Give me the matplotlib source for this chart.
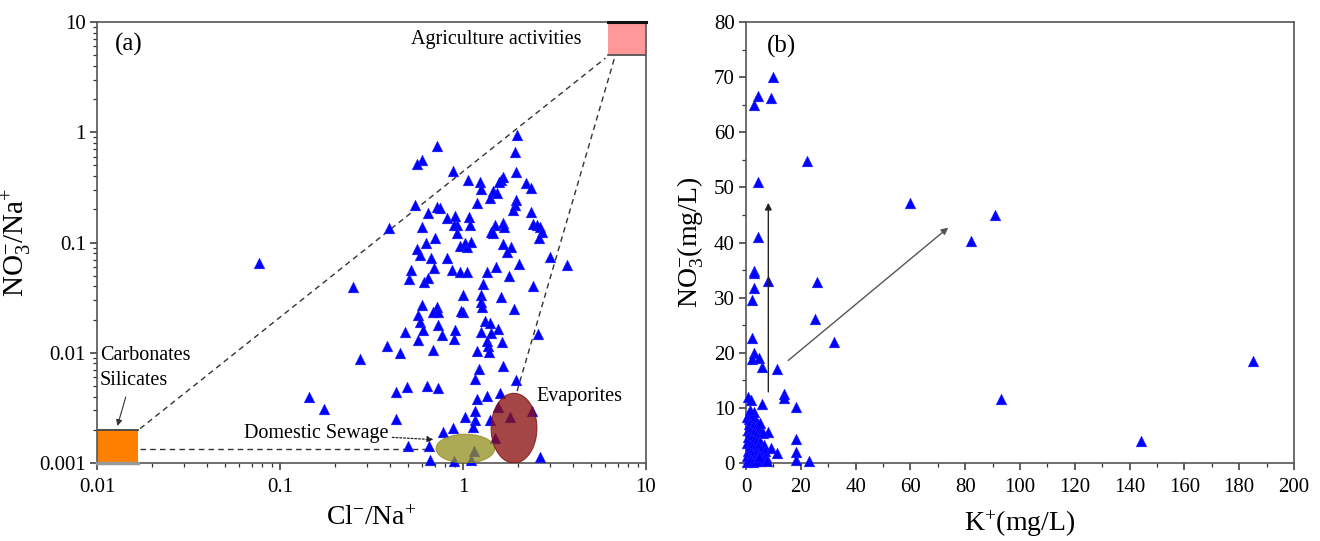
import matplotlib
matplotlib.use('Agg')
import matplotlib.pyplot as plt
import numpy as np
from matplotlib.patches import Rectangle
from matplotlib.ticker import FixedLocator, FixedFormatter, LogLocator, MultipleLocator, NullFormatter

plt.rcParams['font.family'] = ['Liberation Serif', 'DejaVu Serif']
plt.rcParams['mathtext.fontset'] = 'custom'
plt.rcParams['mathtext.rm'] = 'Liberation Serif'
plt.rcParams['mathtext.it'] = 'Liberation Serif:italic'
plt.rcParams['mathtext.bf'] = 'Liberation Serif:bold'

# ---------------- Panel (a) data: Cl-/Na+ vs NO3-/Na+ ----------------
cl_na = [1.98, 0.718, 1.92, 0.594, 0.558, 0.885, 1.95, 1.06, 1.24, 1.26, 1.66, 1.61, 1.57,
         1.46, 1.40, 1.53, 2.20, 2.34, 0.547, 1.96, 1.92, 1.88, 1.20, 0.724, 0.748, 0.646,
         0.814, 0.904, 0.923, 1.08, 1.09, 0.897, 0.923, 0.600, 1.50, 1.66, 1.68, 1.43, 1.46,
         2.35, 2.40, 2.53, 2.63, 2.69, 2.60, 0.703, 0.628, 0.563, 0.582, 0.963, 1.03, 1.05,
         1.11, 1.66, 1.83, 1.73, 2.99, 3.68, 0.668, 0.821, 0.518, 0.697, 0.507, 0.615, 0.646,
         0.874, 0.963, 1.05, 1.36, 1.51, 1.78, 2.02, 2.40, 1.28, 0.252, 0.396, 1.00, 1.26,
         1.61,
         0.594, 0.718, 0.688, 0.733, 1.26, 1.27, 1.90, 0.996, 0.565, 0.582, 0.733, 0.607,
         0.904, 0.482, 0.764, 1.32, 1.40, 1.56, 1.43, 1.35, 1.63, 0.570, 0.893, 0.386, 0.452,
         0.688, 1.19, 1.37, 1.38, 0.274, 1.23, 1.66, 1.16, 1.95, 2.56, 0.430, 0.492, 0.633,
         0.727, 1.20, 1.36, 1.59, 1.02, 1.17, 1.16, 0.430, 1.40, 1.56, 1.81, 2.37, 0.885,
         0.774, 1.13, 1.50, 0.498, 0.655, 0.660, 0.893, 1.11, 1.15, 2.63,
         0.077, 0.144, 0.175, 1.25, 0.98]
no3_na = [0.944, 0.755, 0.667, 0.560, 0.512, 0.445, 0.439, 0.369, 0.356, 0.303, 0.390, 0.369,
          0.356, 0.295, 0.251, 0.279, 0.344, 0.310, 0.219, 0.243, 0.219, 0.197, 0.227, 0.211,
          0.204, 0.184, 0.166, 0.174, 0.144, 0.171, 0.144, 0.144, 0.123, 0.139, 0.144, 0.151,
          0.139, 0.125, 0.121, 0.190, 0.147, 0.144, 0.139, 0.125, 0.111, 0.111, 0.0996, 0.0867,
          0.077, 0.0929, 0.0996, 0.0917, 0.102, 0.0969, 0.0917, 0.0826, 0.0744, 0.0625, 0.0718,
          0.0718, 0.0563, 0.0583, 0.0467, 0.0441, 0.0473, 0.0563, 0.0544, 0.0544, 0.0536,
          0.0604, 0.0497, 0.0638, 0.0406, 0.0417, 0.0398, 0.136, 0.0334, 0.0334, 0.0323,
          0.0271, 0.0258, 0.0236, 0.0233, 0.0291, 0.0258, 0.0248, 0.0233, 0.0220, 0.0191,
          0.0179, 0.0161, 0.0161, 0.0155, 0.0145, 0.0194, 0.0185, 0.0163, 0.0150, 0.0128,
          0.0124, 0.0130, 0.0132, 0.0116, 0.00988, 0.0106, 0.0104, 0.0114, 0.0102, 0.00871,
          0.00707, 0.00758, 0.00574, 0.00566, 0.0147, 0.00444, 0.00486, 0.00500, 0.00482,
          0.00381, 0.00408, 0.00428, 0.00260, 0.00296, 0.00245, 0.00249, 0.00245, 0.00324,
          0.00260, 0.00296, 0.00209, 0.00192, 0.00214, 0.00167, 0.00144, 0.00144, 0.00106,
          0.00105, 0.00106, 0.00129, 0.00114,
          0.065, 0.0040, 0.0031, 0.0155, 0.0240]

# ---------------- Panel (b) data: K+ vs NO3- (mg/L) ----------------
k_mg = [9.97, 4.26, 3.0, 9.0, 22.1, 4.26, 59.9, 91.0, 82.0, 4.26, 2.92, 3.1, 3.0, 8.15,
        26.0, 2.07, 25.2, 32.1, 2.07, 3.0, 2.07, 4.87, 5.96, 11.2, 185.1, 14.0, 14.0, 93.1,
        0.85, 1.7, 5.96, 18.1, 8.15, 18.1, 144.2, 9.0, 11.2, 18.1, 18.1, 23.0,
        0.5, 1.2, 2.0, 2.8, 3.5, 4.2, 1.0, 2.5, 3.3, 4.8, 5.5, 0.6, 1.6, 2.4, 3.8, 4.5,
        6.2, 0.8, 1.8, 2.9, 3.6, 5.2, 6.4, 0.4, 1.3, 2.2, 3.1, 4.3, 5.6, 7.0, 0.7, 1.7,
        2.7, 3.9, 4.9, 6.0, 7.3, 0.3, 1.1, 2.0, 3.0, 4.1, 5.2, 6.3, 0.2, 1.5, 2.6, 3.6,
        4.6, 7.6, 5.0, 3.0, 1.5]
no3_mg = [70.1, 66.6, 64.9, 66.2, 54.8, 51.0, 47.1, 45.0, 40.3, 41.0, 34.9, 34.5, 31.8, 33.0,
          32.9, 29.6, 26.2, 22.0, 22.6, 19.9, 18.8, 19.0, 17.5, 17.0, 18.5, 12.6, 11.8, 11.6,
          12.0, 11.5, 10.7, 10.1, 5.7, 4.3, 4.0, 2.8, 1.9, 2.0, 0.5, 0.36,
          8.4, 7.9, 8.8, 8.2, 7.6, 7.0, 7.0, 6.8, 6.3, 6.2, 5.6, 6.0, 5.8, 5.4, 5.0, 4.6,
          5.4, 4.8, 4.4, 4.1, 3.8, 3.9, 3.3, 3.6, 3.2, 2.9, 2.6, 2.9, 2.5, 2.2, 2.2, 1.9,
          1.6, 1.8, 1.4, 1.2, 1.0, 1.2, 0.9, 0.6, 0.8, 0.5, 0.4, 0.6, 0.2, 0.3, 0.2, 0.3,
          1.0, 0.3, 7.3, 9.2, 9.6]

a_xticks = [0.01, 0.1, 1, 10]
a_xticklabels = ['0.01', '0.1', '1', '10']
a_yticks = [0.001, 0.01, 0.1, 1, 10]
a_yticklabels = ['0.001', '0.01', '0.1', '1', '10']

BLUE = '#0000FF'
SPINE = '#555555'

fig = plt.figure(figsize=(13.2, 5.41), dpi=100)
ax1 = fig.add_axes([97 / 1320, 78 / 541, 549 / 1320, 441 / 541])
ax2 = fig.add_axes([746 / 1320, 78 / 541, 548 / 1320, 441 / 541])

# ---------------- Panel (a) ----------------
ax1.set_xscale('log')
ax1.set_yscale('log')
ax1.set_xlim(0.01, 10)
ax1.set_ylim(0.001, 10)

ax1.scatter(cl_na, no3_na, marker='^', s=60, c=BLUE, edgecolors='#2a2aff',
            linewidths=0.3, zorder=3, clip_on=False)


def log_ellipse(ax, cx, cy, hw, hh, color, alpha, ec):
    t = np.linspace(0, 2 * np.pi, 300)
    xs = 10 ** (np.log10(cx) + hw * np.cos(t))
    ys = 10 ** (np.log10(cy) + hh * np.sin(t))
    ax.fill(xs, ys, facecolor=color, alpha=alpha, edgecolor=ec, lw=0.8, zorder=4)


log_ellipse(ax1, 1.03, 0.00135, 0.16, 0.13, '#94901f', 0.76, '#8F8A1F')
log_ellipse(ax1, 1.90, 0.00207, 0.125, 0.316, '#8B1212', 0.78, '#7a1010')

# Agriculture box
ax1.add_patch(Rectangle((6.2, 5), 10 - 6.2, 5, facecolor='#FF9999', edgecolor='none', zorder=2))
ax1.plot([6.2, 10], [5, 5], color='#555555', lw=1.3, zorder=5)
ax1.plot([6.2, 10], [10, 10], color='#111111', lw=2.2, zorder=6, clip_on=False)
# Carbonates / silicates box
ax1.add_patch(Rectangle((0.01, 0.001), 0.0167 - 0.01, 0.002 - 0.001,
                        facecolor='#FF8000', edgecolor='none', zorder=2))
ax1.plot([0.01, 0.0167], [0.002, 0.002], color='#444444', lw=1.3, zorder=5)
ax1.plot([0.01, 0.0167], [0.001, 0.001], color='#999999', lw=2.5, zorder=5, clip_on=False)

dash = (0, (4, 3))
ax1.plot([0.0172, 6.0], [0.00205, 4.7], color='#333333', lw=1.0, linestyle=dash, zorder=2)
ax1.plot([6.7, 1.96], [4.6, 0.0043], color='#333333', lw=1.0, linestyle=dash, zorder=2)
ax1.plot([0.0172, 0.64], [0.00133, 0.00133], color='#333333', lw=1.0, linestyle=dash, zorder=2)

ax1.text(0.52, 6.97, 'Agriculture activities', fontsize=14.5, ha='left', va='center')
ax1.text(0.0104, 0.0095, 'Carbonates', fontsize=14.5, ha='left', va='center')
ax1.text(0.0104, 0.00566, 'Silicates', fontsize=14.5, ha='left', va='center')
ax1.annotate('', xy=(0.0128, 0.00205), xytext=(0.0145, 0.0042),
             arrowprops=dict(arrowstyle='-|>', color='#333333', lw=0.8, mutation_scale=9))
ax1.text(2.53, 0.00399, 'Evaporites', fontsize=14.5, ha='left', va='center')
ax1.annotate('Domestic Sewage', xy=(0.69, 0.00163), xytext=(0.39, 0.00186),
             fontsize=14.5, ha='right', va='center',
             arrowprops=dict(arrowstyle='-|>', color='#222222', lw=0.9,
                             linestyle=(0, (1.5, 1.5)), mutation_scale=9,
                             shrinkA=1, shrinkB=0))
ax1.text(0.0125, 6.3, '(a)', fontsize=18, ha='left', va='center')

ax1.xaxis.set_major_locator(FixedLocator(a_xticks))
ax1.xaxis.set_major_formatter(FixedFormatter(a_xticklabels))
ax1.yaxis.set_major_locator(FixedLocator(a_yticks))
ax1.yaxis.set_major_formatter(FixedFormatter(a_yticklabels))
ax1.xaxis.set_minor_locator(LogLocator(base=10, subs=np.arange(2, 10)))
ax1.yaxis.set_minor_locator(LogLocator(base=10, subs=np.arange(2, 10)))
ax1.xaxis.set_minor_formatter(NullFormatter())
ax1.yaxis.set_minor_formatter(NullFormatter())
ax1.set_xlabel(r'Cl$^{-}$/Na$^{+}$', fontsize=20, labelpad=6)
ax1.set_ylabel(r'NO$_3^{-}$/Na$^{+}$', fontsize=21, labelpad=4)

# ---------------- Panel (b) ----------------
ax2.set_xlim(0, 200)
ax2.set_ylim(0, 80)
ax2.scatter(k_mg, no3_mg, marker='^', s=60, c=BLUE, edgecolors='#2a2aff',
            linewidths=0.3, zorder=3, clip_on=False)
ax2.annotate('', xy=(8.15, 47.2), xytext=(8.15, 12.9),
             arrowprops=dict(arrowstyle='-|>', color='#222222', lw=1.0, mutation_scale=10,
                             shrinkA=0, shrinkB=0))
ax2.annotate('', xy=(73.8, 42.7), xytext=(15.4, 18.6),
             arrowprops=dict(arrowstyle='-|>', color='#555555', lw=1.0, mutation_scale=10,
                             shrinkA=0, shrinkB=0))
ax2.text(7.8, 75.5, '(b)', fontsize=18, ha='left', va='center')
ax2.xaxis.set_major_locator(MultipleLocator(20))
ax2.xaxis.set_minor_locator(MultipleLocator(10))
ax2.yaxis.set_major_locator(MultipleLocator(10))
ax2.yaxis.set_minor_locator(MultipleLocator(5))
ax2.set_xlabel(r'K$^{+}$(mg/L)', fontsize=20, labelpad=8)
ax2.set_ylabel(r'NO$_3^{-}$(mg/L)', fontsize=20, labelpad=6)

for ax in (ax1, ax2):
    for s in ax.spines.values():
        s.set_color(SPINE)
        s.set_linewidth(1.2)
    ax.tick_params(which='major', direction='out', length=5, width=1.1, color='#333333',
                   labelsize=15)
    ax.tick_params(which='minor', direction='out', length=3, width=0.9, color='#333333')
    ax.tick_params(axis='x', which='major', pad=6)
    ax.tick_params(axis='y', which='major', pad=3)

fig.savefig('out.png', dpi=100)
